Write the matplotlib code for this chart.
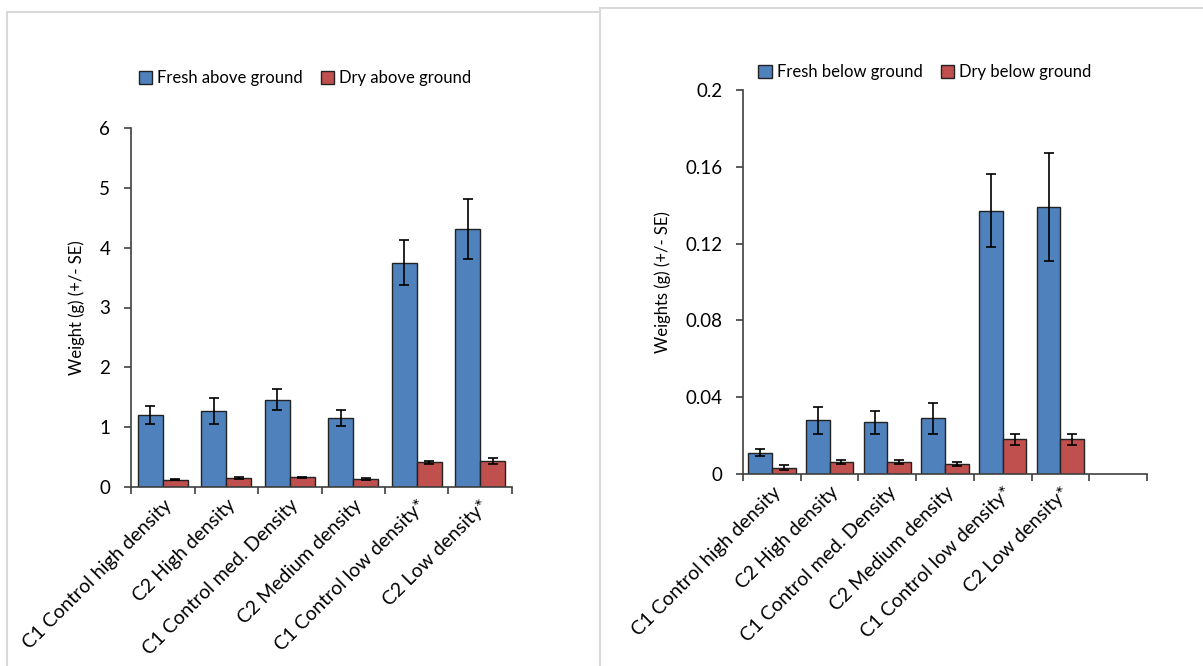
import matplotlib.pyplot as plt
from matplotlib.patches import Rectangle
import numpy as np

plt.rcParams['font.family'] = ['Lato', 'DejaVu Sans']

# Categories shared by both panels
categories = ['C1 Control high density', 'C2 High density', 'C1 Control med. Density',
              'C2 Medium density', 'C1 Control low density*', 'C2 Low density*']

# Above ground weights (g)
fresh_above = [1.20, 1.27, 1.46, 1.15, 3.75, 4.31]
fresh_above_se = [0.15, 0.22, 0.18, 0.13, 0.37, 0.50]
dry_above = [0.12, 0.15, 0.16, 0.14, 0.41, 0.43]
dry_above_se = [0.01, 0.015, 0.01, 0.015, 0.02, 0.05]

# Below ground weights (g)
fresh_below = [0.011, 0.028, 0.027, 0.029, 0.137, 0.139]
fresh_below_se = [0.0018, 0.007, 0.006, 0.008, 0.019, 0.028]
dry_below = [0.0033, 0.0063, 0.0063, 0.0052, 0.018, 0.018]
dry_below_se = [0.0012, 0.001, 0.001, 0.001, 0.003, 0.003]

blue = '#4F81BD'
red = '#C0504D'
axis_col = '#404040'


def panel(ax, fresh, fresh_se, dry, dry_se, labels, width, n_slots, yticks, ylabel, legend_names):
    x = np.arange(len(fresh))
    err_kw = dict(ecolor='black', capsize=3.5, elinewidth=1.2, capthick=1.2)
    ax.bar(x - width / 2, fresh, width, yerr=fresh_se, color=blue, edgecolor='#222222',
           linewidth=1, label=legend_names[0], error_kw=err_kw, zorder=2)
    ax.bar(x + width / 2, dry, width, yerr=dry_se, color=red, edgecolor='#222222',
           linewidth=1, label=legend_names[1], error_kw=err_kw, zorder=2)

    ax.set_xlim(-0.5, n_slots - 0.5)
    ax.set_ylim(yticks[0], yticks[-1])
    ax.set_yticks(yticks)
    ax.set_yticklabels([('%g' % t) for t in yticks])

    # ticks at category boundaries, labels at centers
    ax.set_xticks(np.arange(n_slots + 1) - 0.5)
    ax.set_xticklabels([])
    ax.set_xticks(x, minor=True)
    ax.set_xticklabels(labels, minor=True, rotation=45, ha='right', rotation_mode='anchor')
    ax.tick_params(axis='x', which='minor', length=0, pad=7, labelsize=14)
    ax.tick_params(axis='x', which='major', length=5, direction='out', color=axis_col, width=1.2)
    ax.tick_params(axis='y', length=5, direction='out', color=axis_col, width=1.2, labelsize=13.5, pad=10)

    for s in ['top', 'right']:
        ax.spines[s].set_visible(False)
    for s in ['left', 'bottom']:
        ax.spines[s].set_color(axis_col)
        ax.spines[s].set_linewidth(1.2)

    ax.set_ylabel(ylabel, fontsize=12, labelpad=10)
    ax.legend(loc='center', ncol=2, frameon=False,
              fontsize=12, handlelength=0.8, handleheight=0.8, handletextpad=0.3,
              columnspacing=1.1)


fig = plt.figure(figsize=(12.03, 6.66), dpi=100)

# light panel borders as in the source screenshot
fig.patches.append(Rectangle((7 / 1203, -0.01), 593 / 1203, 1 - 12 / 666 + 0.01,
                             transform=fig.transFigure, fill=False, edgecolor='#d9d9d9', linewidth=1.5))
fig.patches.append(Rectangle((600 / 1203, -0.01), 0.6, 1 - 8 / 666 + 0.01,
                             transform=fig.transFigure, fill=False, edgecolor='#d9d9d9', linewidth=1.5))

ax1 = fig.add_axes([131 / 1203, 1 - 487 / 666, 381 / 1203, 359 / 666])
panel(ax1, fresh_above, fresh_above_se, dry_above, dry_above_se, categories, 0.39, 6,
      [0, 1, 2, 3, 4, 5, 6], 'Weight (g) (+/- SE)',
      ['Fresh above ground', 'Dry above ground'])
ax1.legend_.set_bbox_to_anchor((305 / 1203, 1 - 78 / 666), transform=fig.transFigure)

ax2 = fig.add_axes([743 / 1203, 1 - 474 / 666, 404 / 1203, 384 / 666])
panel(ax2, fresh_below, fresh_below_se, dry_below, dry_below_se, categories, 0.41, 7,
      [0, 0.04, 0.08, 0.12, 0.16, 0.2], 'Weights (g) (+/- SE)',
      ['Fresh below ground', 'Dry below ground'])
ax2.legend_.set_bbox_to_anchor((925 / 1203, 1 - 72 / 666), transform=fig.transFigure)

fig.savefig('out.png', dpi=100)
